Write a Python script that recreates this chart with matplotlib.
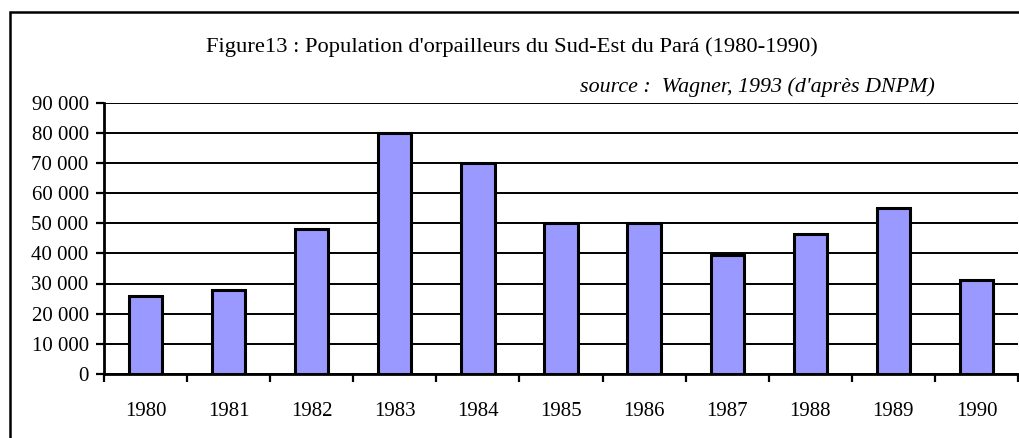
import numpy as np
import matplotlib.pyplot as plt
from matplotlib.patches import Rectangle
from matplotlib.ticker import FuncFormatter

years = ["1980", "1981", "1982", "1983", "1984", "1985",
         "1986", "1987", "1988", "1989", "1990"]
orpailleurs = [26000, 28000, 48000, 80000, 70000, 50000,
               50000, 39500, 46500, 55000, 31000]
y_ticks = [0, 10000, 20000, 30000, 40000, 50000, 60000, 70000, 80000, 90000]

plt.rcParams["font.family"] = ["Liberation Serif", "DejaVu Serif"]

fig = plt.figure(figsize=(10.19, 4.38), dpi=100)
ax = fig.add_axes([104 / 1019, 1 - 374 / 438, (1018 - 104) / 1019, (374 - 102.5) / 438])

x = np.arange(len(years))
ax.set_axisbelow(True)
ax.bar(x, orpailleurs, width=0.4, color="#9999ff", edgecolor="black", linewidth=2.2, zorder=3)

ax.set_ylim(0, 90000)
ax.set_xlim(-0.5, len(years) - 0.5)
ax.set_yticks(y_ticks)
ax.yaxis.set_major_formatter(FuncFormatter(lambda v, p: f"{int(v):,}".replace(",", " ")))
ax.yaxis.grid(True, color="black", linewidth=1.4)

ax.set_xticks(x)
ax.set_xticklabels(years)
ax.set_xticks(np.arange(-0.5, len(years)), minor=True)
ax.tick_params(axis="x", which="major", length=0, pad=20, labelsize=15)
ax.tick_params(axis="x", which="minor", length=6, width=1.6, direction="out")
ax.tick_params(axis="y", length=6, width=1.6, pad=5, labelsize=15)

for s in ["top", "right"]:
    ax.spines[s].set_visible(False)
ax.spines["left"].set_linewidth(2)
ax.spines["bottom"].set_linewidth(2)

fig.text(512 / 1019, 1 - 47 / 438, "Figure13 : Population d'orpailleurs du Sud-Est du Pará (1980-1990)",
         ha="center", va="center", fontsize=16.2)
fig.text(935 / 1019, 1 - 87 / 438, "source :  Wagner, 1993 (d'après DNPM)",
         ha="right", va="center", fontsize=15.8, style="italic")

# outer frame, cut off on the right and bottom like the original
fig.add_artist(Rectangle((10 / 1019, -0.1), 1.2, 1.1 - 12 / 438, transform=fig.transFigure,
                         fill=False, edgecolor="black", linewidth=1.8))

fig.savefig("out.png", dpi=100)
